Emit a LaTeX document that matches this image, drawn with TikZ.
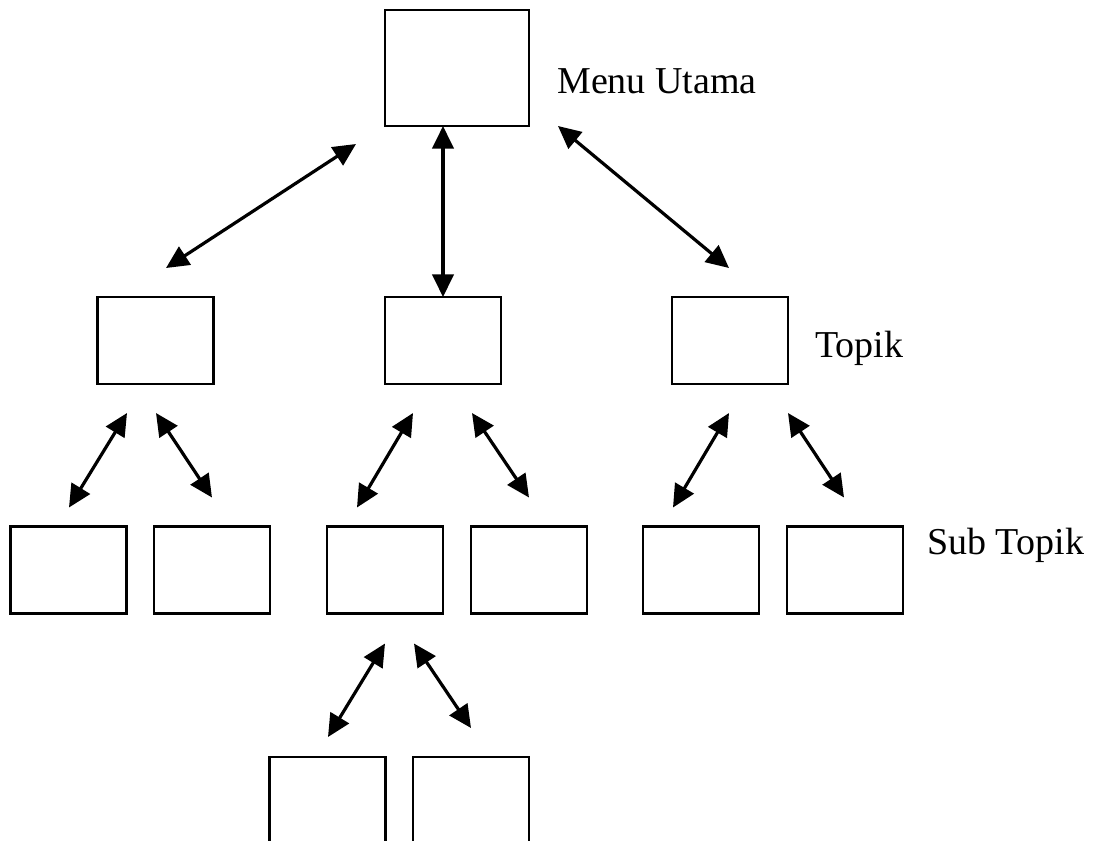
\documentclass[tikz,border=0pt]{standalone}
\usepackage{fontspec}
\setmainfont{Liberation Serif}
\usepackage{tikz}
\usetikzlibrary{arrows.meta}

\begin{document}
\begin{tikzpicture}[
  x=0.75pt, y=-0.75pt,
  menu/.style={rectangle, draw=black, line width=1.8pt, minimum width=108pt, minimum height=87pt, inner sep=0pt, outer sep=0pt},
  topik/.style={rectangle, draw=black, line width=1.8pt, minimum width=87pt, minimum height=65.25pt, inner sep=0pt, outer sep=0pt},
  label/.style={anchor=base west, inner sep=0pt, font=\fontsize{28.5pt}{34pt}\selectfont},
  arrow/.style={{Triangle[length=17pt,width=16pt]}-{Triangle[length=17pt,width=16pt]}, line width=2.4pt}
]
\clip (0,0) rectangle (1095,840);

% Top - Menu Utama
\node[menu] (menu) at (457,68) {};
\node[label] (lmenu) at (557,93) {Menu Utama};

% Middle row - Topik
\node[topik] (t1) at (155.5,340.5) {};
\node[topik] (t2) at (443,340.5) {};
\node[topik] (t3) at (730,340.5) {};
\node[label] (ltopik) at (815,357) {Topik};

% Lower row - Sub Topik
\node[topik] (s1) at (68.5,570) {};
\node[topik] (s2) at (212,570) {};
\node[topik] (s3) at (385,570) {};
\node[topik] (s4) at (529,570) {};
\node[topik] (s5) at (701,570) {};
\node[topik] (s6) at (845,570) {};
\node[label] (lsub) at (927,554) {Sub Topik};

% Bottom row
\node[topik] (b1) at (327.5,800.5) {};
\node[topik] (b2) at (471,800.5) {};

% Arrows
\draw[arrow] ([shift={(-29,18)}]menu.south west) -- ([shift={(10.5,-29)}]t1.north);
\draw[arrow] (t2.north |- menu.south) -- (t2.north);
\draw[arrow] ([shift={(29,0)}]menu.south east) -- ([shift={(-1,-29)}]t3.north);

\draw[arrow] ([shift={(-28.5,29)}]t1.south) -- ([shift={(0.5,-19)}]s1.north);
\draw[arrow] ([shift={(0.5,29)}]t1.south) -- ([shift={(0,-29)}]s2.north);
\draw[arrow] ([shift={(-30,29)}]t2.south) -- ([shift={(-28,-19)}]s3.north);
\draw[arrow] ([shift={(29,29)}]t2.south) -- ([shift={(0,-29)}]s4.north);
\draw[arrow] ([shift={(-1,29)}]t3.south) -- ([shift={(-28,-19)}]s5.north);
\draw[arrow] ([shift={(58,29)}]t3.south) -- ([shift={(-1,-29)}]s6.north);

\draw[arrow] ([shift={(0,30)}]s3.south) -- ([shift={(0.5,-20)}]b1.north);
\draw[arrow] ([shift={(29,30)}]s3.south) -- ([shift={(0,-29)}]b2.north);

\end{tikzpicture}
\end{document}
